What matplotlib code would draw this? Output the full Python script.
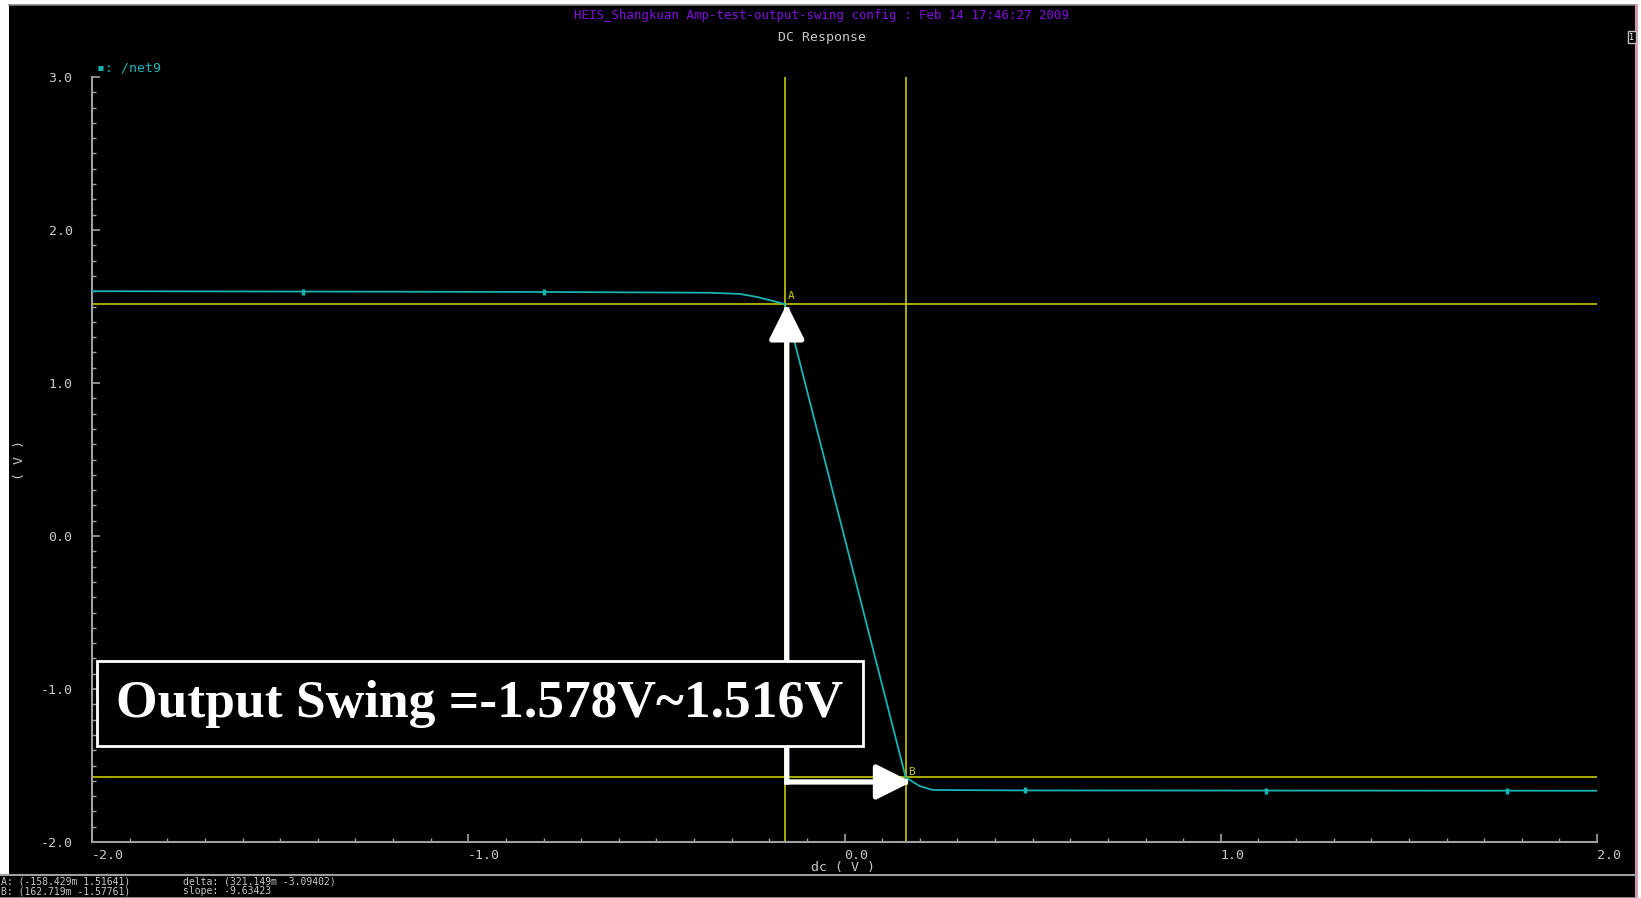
import numpy as np
import matplotlib
matplotlib.use("Agg")
import matplotlib.pyplot as plt
from matplotlib.patches import Rectangle
from matplotlib.lines import Line2D
from matplotlib.ticker import MultipleLocator

################################
# DC sweep data (/net9)
################################
vin  = [-2.0, -0.799, -0.36, -0.278, -0.232, -0.158429, 0.162719, 0.20, 0.235, 0.481, 2.0]
vout = [1.600, 1.595, 1.590, 1.582, 1.562, 1.51641, -1.57761, -1.635, -1.660, -1.663, -1.665]

# plot symbols along the trace
sym_x = [-1.439, -0.799, 0.481, 1.121, 1.761]
sym_y = [1.598, 1.595, -1.663, -1.664, -1.665]

# cursors
cur_a = (-0.158429, 1.51641)
cur_b = (0.162719, -1.57761)
delta = (0.321149, -3.09402)
slope = -9.63423

x_ticks = [-2.0, -1.0, 0.0, 1.0, 2.0]
y_ticks = [-2.0, -1.0, 0.0, 1.0, 2.0, 3.0]

title = "HEIS_Shangkuan Amp-test-output-swing config : Feb 14 17:46:27 2009"
note = "Output Swing =-1.578V~1.516V"

################################
# Figure
################################
W, H = 1641, 898
fig = plt.figure(figsize=(W / 100, H / 100), dpi=100, facecolor="white")

def fx(px):
    return px / W

def fy(py):
    return 1 - py / H

mono = "DejaVu Sans Mono"
grey = "#c8c8c8"
cyan = "#18b4b4"
yellow = "#c8c800"

# window background + status bar
fig.patches.append(Rectangle((fx(9), 0), fx(1635) - fx(9), fy(5), transform=fig.transFigure,
                             fc="black", ec="none", zorder=-10))
fig.patches.append(Rectangle((0, 0), fx(1635), fy(876), transform=fig.transFigure,
                             fc="black", ec="none", zorder=-10))
fig.add_artist(Line2D([fx(9), fx(1635)], [fy(5), fy(5)], color="#808080", lw=1.2))
fig.add_artist(Line2D([fx(1636), fx(1636)], [0, fy(5)], color="#d090b0", lw=2))
fig.add_artist(Line2D([0, fx(1635)], [fy(875), fy(875)], color="#a0a0a0", lw=1.5))
fig.add_artist(Line2D([0, fx(1635)], [fy(897.5), fy(897.5)], color="#a0a0a0", lw=1.2))

ax = fig.add_axes([fx(92), fy(842), (1597 - 92) / W, (842 - 77) / H])
ax.set_facecolor("black")
ax.set_xlim(-2.0, 2.0)
ax.set_ylim(-2.0, 3.0)

# cursors A and B
ax.axvline(cur_a[0], color=yellow, lw=1.2, zorder=2)
ax.axvline(cur_b[0], color=yellow, lw=1.2, zorder=2)
ax.axhline(cur_a[1], color=yellow, lw=1.2, zorder=2)
ax.axhline(cur_b[1], color=yellow, lw=1.2, zorder=2)
ax.annotate("A", cur_a, xytext=(2, 2), textcoords="offset points", color=yellow,
            fontsize=8, family=mono, va="bottom", ha="left")
ax.annotate("B", cur_b, xytext=(2, 0), textcoords="offset points", color=yellow,
            fontsize=8, family=mono, va="bottom", ha="left")

# trace
ax.plot(vin, vout, color=cyan, lw=1.3, zorder=3)
ax.plot(sym_x, sym_y, ls="none", marker="|", ms=5, mew=2.5, color=cyan, zorder=3)

# swing arrows
corner = (cur_a[0] + 0.005, cur_b[1] - 0.03)
head = dict(arrowstyle="-|>,head_length=0.6,head_width=0.3", mutation_scale=36,
            color="white", lw=3.8, shrinkA=0, shrinkB=0, capstyle="projecting")
ax.annotate("", xy=(corner[0], cur_a[1]), xytext=corner, arrowprops=head, zorder=5)
ax.annotate("", xy=(cur_b[0] + 0.015, corner[1]), xytext=corner, arrowprops=head, zorder=5)

# result box
ax.add_patch(Rectangle((0.0033, 0.1255), 0.509, 0.111, transform=ax.transAxes,
                       fc="black", ec="white", lw=2, zorder=10))
ax.text(0.0033 + 0.2545, 0.181, note, transform=ax.transAxes, ha="center", va="center",
        color="white", fontsize=38.5, family="Liberation Serif", weight="bold", zorder=11)

# axes styling
for side in ["top", "right"]:
    ax.spines[side].set_visible(False)
for side in ["left", "bottom"]:
    ax.spines[side].set_color("#a0a0a0")
    ax.spines[side].set_linewidth(1.5)
ax.set_xticks(x_ticks)
ax.set_yticks(y_ticks)
ax.xaxis.set_minor_locator(MultipleLocator(0.1))
ax.yaxis.set_minor_locator(MultipleLocator(0.1))
ax.tick_params(which="both", direction="in", colors="#a0a0a0", labelcolor=grey, labelsize=9.5)
ax.tick_params(which="major", length=6, width=1.2)
ax.tick_params(which="minor", length=3, width=1)
ax.tick_params(axis="y", pad=14)
ax.tick_params(axis="x", pad=5)
ax.set_xticklabels([f"{v:.1f}" for v in x_ticks], family=mono, ha="left")
ax.set_yticklabels([f"{v:.1f}" for v in y_ticks], family=mono)

# headers and labels
fig.text(fx(822), fy(16), title, color="#8410e0", fontsize=8.9, family=mono, ha="center", va="center")
fig.text(fx(822), fy(38), "DC Response", color=grey, fontsize=9.5, family=mono, ha="center", va="center")
fig.text(fx(97), fy(68), "\u25aa: /net9", color=cyan, fontsize=9.5, family=[mono, "DejaVu Sans"],
         ha="left", va="center")
fig.text(fx(19), fy(460), "( V )", color=grey, fontsize=9.5, family=mono, rotation=90,
         ha="center", va="center")
fig.text(fx(843), fy(868), "dc ( V )", color=grey, fontsize=9.5, family=mono, ha="center", va="center")
fig.text(fx(1632), fy(37), "1", color="white", fontsize=6, family=mono, ha="center", va="center",
         bbox=dict(fc="black", ec="#c0c0c0", pad=0.8, lw=1))

# cursor readout
fs = 7.0
fig.text(fx(1), fy(881), f"A: ({cur_a[0]*1000:.3f}m {cur_a[1]:.5f})", color=grey,
         fontsize=fs, family=mono, ha="left", va="center")
fig.text(fx(1), fy(891), f"B: ({cur_b[0]*1000:.3f}m {cur_b[1]:.5f})", color=grey,
         fontsize=fs, family=mono, ha="left", va="center")
fig.text(fx(183), fy(881), f"delta: ({delta[0]*1000:.3f}m {delta[1]:.5f})", color=grey,
         fontsize=fs, family=mono, ha="left", va="center")
fig.text(fx(183), fy(891), f"slope: {slope:.5f}", color=grey,
         fontsize=fs, family=mono, ha="left", va="center")

fig.savefig("out.png", dpi=100, facecolor=fig.get_facecolor())
